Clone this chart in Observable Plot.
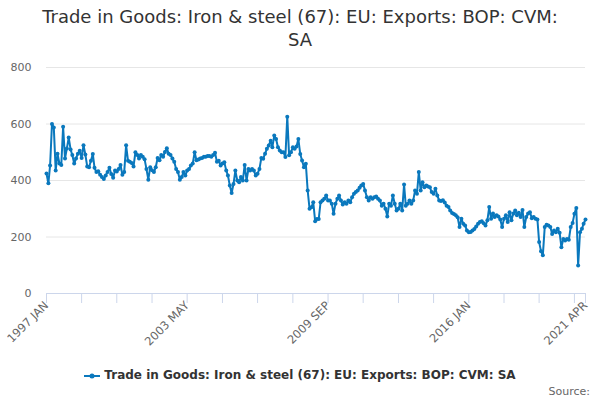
<!DOCTYPE html>
<html>
<head>
<meta charset="utf-8">
<script src="https://cdn.jsdelivr.net/npm/d3@7"></script>
<script src="https://cdn.jsdelivr.net/npm/@observablehq/plot@0.6"></script>
<style>
  html, body { margin: 0; padding: 0; background: #fff; }
  #wrap { position: relative; width: 600px; height: 400px; font-family: "DejaVu Sans", sans-serif; overflow: hidden; }
  #chart { position: absolute; left: 0; top: 0; }
  #title { position: absolute; top: 5px; left: 0; width: 600px; text-align: center; font-size: 18px; line-height: 23px; color: #333; }
  #legend { position: absolute; top: 368px; left: 0; width: 600px; text-align: center; font-size: 12px; font-weight: bold; color: #333; }
  #legend svg { vertical-align: middle; margin-right: 4px; }
  #source { position: absolute; top: 385px; right: 10px; font-size: 11px; color: #666; }
</style>
</head>
<body>
<div id="wrap">
  <div id="chart"></div>
  <div id="title">Trade in Goods: Iron &amp; steel (67): EU: Exports: BOP: CVM:<br>SA</div>
  <div id="legend"><svg width="16" height="10"><line x1="0" y1="5" x2="16" y2="5" stroke="#0a78bd" stroke-width="2"/><circle cx="8" cy="5" r="2.5" fill="#0a78bd"/></svg><span id="seriesName"></span></div>
  <div id="source">Source:</div>
</div>
<script>
const seriesName = "Trade in Goods: Iron & steel (67): EU: Exports: BOP: CVM: SA";
const years = [1997,1998,1999,2000,2001,2002,2003,2004,2005,2006,2007,2008,2009,2010,2011,2012,2013,2014,2015,2016,2017,2018,2019,2020,2021];
const v1997 = [425,390,453,600,588,435,495,460,455,590,478,513];
const v1998 = [552,510,490,460,478,495,505,480,525,492,450,447];
const v1999 = [470,494,445,430,433,420,412,405,418,430,445,423];
const v2000 = [410,435,432,441,455,420,430,525,470,466,462,450];
const v2001 = [500,490,478,490,484,475,441,403,447,436,430,447];
const v2002 = [480,472,490,484,501,514,495,490,478,466,441,430];
const v2003 = [403,412,430,418,435,441,453,460,500,472,474,478];
const v2004 = [480,484,484,487,487,484,490,498,466,470,453,460];
const v2005 = [465,435,418,382,356,388,435,400,394,412,400,455];
const v2006 = [400,441,435,441,435,418,424,441,480,477,495,512];
const v2007 = [524,541,518,559,547,518,506,500,500,483,626,489];
const v2008 = [500,518,512,520,547,494,471,447,459,365,300,305];
const v2009 = [323,256,264,264,323,329,335,347,329,329,318,282];
const v2010 = [318,335,347,329,315,323,318,329,323,341,353,359];
const v2011 = [365,374,382,388,365,341,329,341,335,341,343,335];
const v2012 = [329,311,318,300,273,318,311,347,318,294,300,318];
const v2013 = [294,386,311,318,329,318,329,365,353,430,365,394];
const v2014 = [376,382,379,376,359,353,371,347,329,327,330,322];
const v2015 = [311,306,294,285,281,277,270,235,265,247,241,223];
const v2016 = [217,218,223,228,237,247,253,256,249,241,259,306];
const v2017 = [265,283,271,277,273,262,235,265,277,253,288,259];
const v2018 = [283,294,277,286,271,296,235,271,283,288,266,271];
const v2019 = [265,262,182,150,135,235,243,241,235,211,223,217];
const v2020 = [229,215,164,193,188,193,190,235,250,282,303,99];
const v2021 = [217,229,247,262];
const yearValues = [v1997,v1998,v1999,v2000,v2001,v2002,v2003,v2004,v2005,v2006,v2007,v2008,v2009,v2010,v2011,v2012,v2013,v2014,v2015,v2016,v2017,v2018,v2019,v2020,v2021];
const yTicks = [0, 200, 400, 600, 800];
const xTickLabels = ["1997 JAN", "2003 MAY", "2009 SEP", "2016 JAN", "2021 APR"];
const monthNames = ["JAN","FEB","MAR","APR","MAY","JUN","JUL","AUG","SEP","OCT","NOV","DEC"];

const data = yearValues.flatMap((vals, yi) => vals.map((v, mi) => ({date: new Date(Date.UTC(years[yi], mi, 1)), value: v})));
const start = data[0].date, end = data[data.length - 1].date;
const parseLabel = s => { const [y, m] = s.split(" "); return new Date(Date.UTC(+y, monthNames.indexOf(m), 1)); };
const labelDates = xTickLabels.map(parseLabel);
const tickDates = d3.range(0, 292, 19).map(i => d3.utcMonth.offset(start, i)).concat([end]);
const fmt = d => d.getUTCFullYear() + " " + monthNames[d.getUTCMonth()];
const color = "#0a78bd";

document.getElementById("seriesName").textContent = seriesName;

const chart = Plot.plot({
  width: 600,
  height: 400,
  marginTop: 67,
  marginBottom: 107,
  marginLeft: 46,
  marginRight: 15,
  style: {fontFamily: "DejaVu Sans", fontSize: "11px", color: "#666", background: "transparent"},
  x: {type: "utc", domain: [start, end]},
  y: {domain: [0, 800]},
  marks: [
    Plot.gridY(yTicks, {stroke: "#e6e6e6", strokeOpacity: 1}),
    Plot.axisY(yTicks, {tickSize: 0, tickPadding: 15, label: null, fill: "#666", fontSize: 11}),
    Plot.ruleY([0], {stroke: "#ccd6eb"}),
    Plot.axisX(tickDates, {tickSize: 10, stroke: "#ccd6eb", tickFormat: () => "", label: null}),
    Plot.axisX(labelDates, {tickSize: 0, tickPadding: 10, tickRotate: -45, tickFormat: fmt, label: null, fill: "#666", fontSize: 11.5}),
    Plot.line(data, {x: "date", y: "value", stroke: color, strokeWidth: 2}),
    Plot.dot(data, {x: "date", y: "value", fill: color, r: 2})
  ]
});
document.getElementById("chart").appendChild(chart);
</script>
</body>
</html>
